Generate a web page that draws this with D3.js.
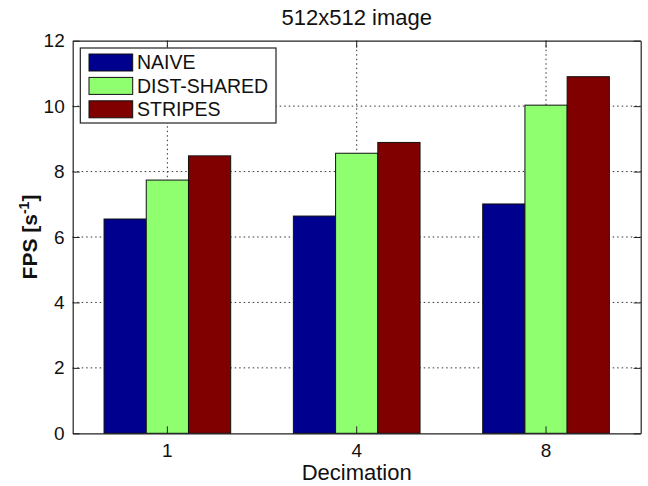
<!DOCTYPE html>
<head>
  <meta charset='utf-8'>
  <title>512x512 image</title>
  <script src="https://cdn.jsdelivr.net/npm/d3@7"></script>
  <style>
    body { margin: 0; background: #fff; }
    svg text { font-family: "Liberation Sans", Arial, Helvetica, sans-serif; fill: #111; }
    .axis path, .axis line { stroke: #222; }
    .grid line { stroke: #333; stroke-dasharray: 1.5,3; }
  </style>
</head>

<body>
  <div id="chart"></div>
  <script>
    // data
    var categories = ["1", "4", "8"];
    var series = ["NAIVE", "DIST-SHARED", "STRIPES"];
    var naive = [6.55, 6.64, 7.01];
    var distShared = [7.74, 8.56, 10.03];
    var stripes = [8.48, 8.89, 10.9];
    var yTicks = [0, 2, 4, 6, 8, 10, 12];
    var colors = ["#00008f", "#8fff70", "#800000"];

    var values = [naive, distShared, stripes];

    var width = 648,
        height = 486;
    // plot box (window.top is reserved, so use other names)
    var x0 = 72.7, x1 = 640.7, y0 = 40.7, y1 = 433.3;

    var svg = d3.select("#chart").append("svg")
        .attr("width", width)
        .attr("height", height);

    var x = d3.scaleBand()
        .domain(categories)
        .range([x0, x1])
        .paddingInner(0.331)
        .paddingOuter(0.1655);

    var xs = d3.scaleBand()
        .domain(series)
        .range([0, x.bandwidth()]);

    var y = d3.scaleLinear()
        .domain([0, 12])
        .range([y1, y0]);

    // grid (under the bars)
    var grid = svg.append("g").attr("class", "grid");
    grid.selectAll(".gy")
        .data(yTicks.slice(1, -1))
      .enter().append("line")
        .attr("x1", x0).attr("x2", x1)
        .attr("y1", function(d) { return y(d); })
        .attr("y2", function(d) { return y(d); });
    grid.selectAll(".gx")
        .data(categories)
      .enter().append("line")
        .attr("x1", function(d) { return x(d) + x.bandwidth() / 2; })
        .attr("x2", function(d) { return x(d) + x.bandwidth() / 2; })
        .attr("y1", y0).attr("y2", y1);

    // bars
    var groups = svg.selectAll(".group")
        .data(categories)
      .enter().append("g")
        .attr("transform", function(d) { return "translate(" + x(d) + ",0)"; });

    groups.selectAll("rect")
        .data(function(d, i) { return series.map(function(s, j) { return {s: s, v: values[j][i], j: j}; }); })
      .enter().append("rect")
        .attr("x", function(d) { return xs(d.s); })
        .attr("width", xs.bandwidth())
        .attr("y", function(d) { return y(d.v); })
        .attr("height", function(d) { return y(0) - y(d.v); })
        .style("fill", function(d) { return colors[d.j]; })
        .style("stroke", "#111")
        .style("stroke-width", 1);

    // axes
    svg.append("g")
        .attr("class", "axis")
        .attr("transform", "translate(" + x0 + ",0)")
        .call(d3.axisLeft(y).tickValues(yTicks).tickSize(-7).tickPadding(8).tickSizeOuter(0))
        .call(function(g) { g.selectAll("text").style("font-size", "19px"); });

    svg.append("g")
        .attr("class", "axis")
        .attr("transform", "translate(" + x1 + ",0)")
        .call(d3.axisRight(y).tickValues(yTicks).tickSize(-7).tickSizeOuter(0).tickFormat(""));

    svg.append("g")
        .attr("class", "axis")
        .attr("transform", "translate(0," + y1 + ")")
        .call(d3.axisBottom(x).tickSize(-7).tickPadding(10).tickSizeOuter(0))
        .call(function(g) { g.selectAll("text").style("font-size", "19px"); });

    svg.append("g")
        .attr("class", "axis")
        .attr("transform", "translate(0," + y0 + ")")
        .call(d3.axisTop(x).tickSize(-7).tickSizeOuter(0).tickFormat(""));

    svg.selectAll(".axis path").style("stroke-width", 1.2);

    // legend
    var lg = svg.append("g");
    lg.append("rect")
        .attr("x", 80.3).attr("y", 48)
        .attr("width", 195.7).attr("height", 75)
        .style("fill", "#fff")
        .style("stroke", "#222")
        .style("stroke-width", 1.2);
    var items = lg.selectAll(".item")
        .data(series)
      .enter().append("g")
        .attr("transform", function(d, i) { return "translate(0," + (62.5 + i * 23.4) + ")"; });
    items.append("rect")
        .attr("x", 89).attr("y", -8.5)
        .attr("width", 43.7).attr("height", 17)
        .style("fill", function(d, i) { return colors[i]; })
        .style("stroke", "#111");
    items.append("text")
        .attr("x", 137).attr("y", 6.8)
        .style("font-size", "19.5px")
        .text(function(d) { return d; });

    // title and labels
    svg.append("text")
        .attr("x", (x0 + x1) / 2)
        .attr("y", 25)
        .attr("text-anchor", "middle")
        .style("font-size", "22px")
        .text("512x512 image");

    svg.append("text")
        .attr("x", (x0 + x1) / 2)
        .attr("y", 480)
        .attr("text-anchor", "middle")
        .style("font-size", "22px")
        .text("Decimation");

    var yl = svg.append("text")
        .attr("transform", "translate(36.5," + ((y0 + y1) / 2) + ") rotate(-90)")
        .attr("text-anchor", "middle")
        .style("font-size", "21px")
        .style("font-weight", "bold");
    yl.append("tspan").text("FPS [s");
    yl.append("tspan").attr("dy", -8).style("font-size", "14px").text("-1");
    yl.append("tspan").attr("dy", 8).text("]");
  </script>
</body>
